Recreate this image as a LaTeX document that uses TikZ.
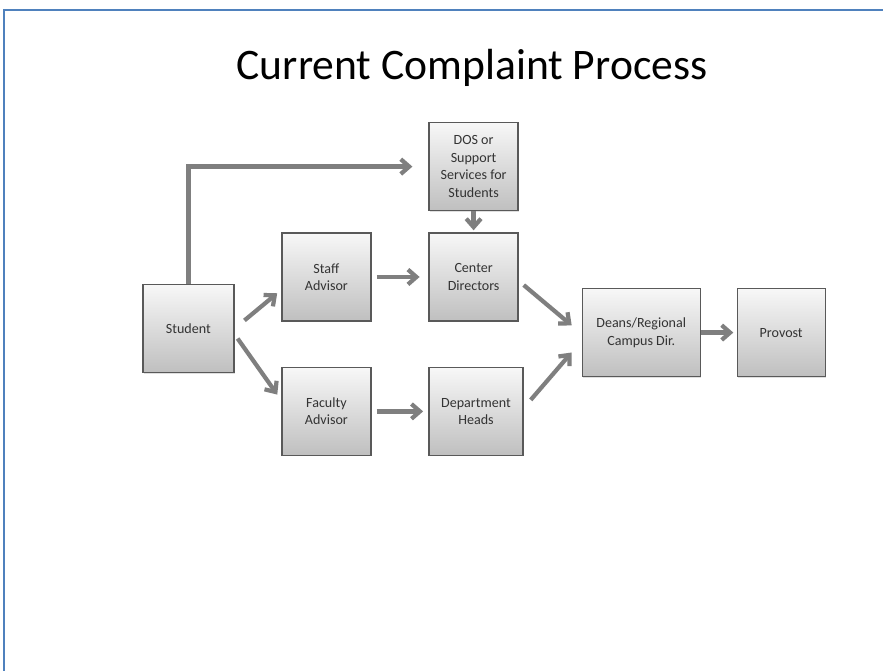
\documentclass[tikz,border=0pt]{standalone}
\usepackage{fontspec}
\setmainfont{Carlito}
\usetikzlibrary{arrows.meta,shadows}
\definecolor{framecol}{HTML}{4F81BD}
\definecolor{arrowgray}{HTML}{7F7F7F}
\definecolor{boxline}{HTML}{595959}
\tikzset{
  box/.style={rectangle, draw=boxline, line width=1pt,
    top color=gray!6, bottom color=gray!50,
    minimum width=2.225cm, minimum height=2.2cm, inner sep=1pt,
    align=center, text=black!80, font=\fontsize{10}{12.4}\selectfont,
    drop shadow={opacity=0.25, shadow xshift=0.7pt, shadow yshift=-0.7pt}},
  flow/.style={draw=arrowgray, line width=3pt,
    -{Straight Barb[length=6pt,width=10.5pt]}}
}

\begin{document}
\begin{tikzpicture}
            \useasboundingbox (0,0) rectangle (22.075,16.775);
            \fill[white] (0,0) rectangle (22.075,16.775);
            \draw[framecol, line width=1.2pt] (0.1,0) -- (0.1,16.525) -- (22.075,16.525);

            \node[font=\fontsize{31}{36}\selectfont] (title) at (11.8,15.08) {Current Complaint Process};

            \draw
            (4.71, 8.56) node[box, minimum width=2.275cm](student) {Student}
            (8.16, 9.85) node[box](staff) {Staff\\Advisor}
            (11.84, 9.85) node[box](center) {Center\\Directors}
            (11.84, 12.61) node[box](dos) {DOS or\\Support\\Services for\\Students}
            (8.16, 6.49) node[box](faculty) {Faculty\\Advisor}
            (11.9, 6.49) node[box, minimum width=2.35cm](dept) {Department\\Heads}
            (16.03, 8.46) node[box, minimum width=2.95cm](deans) {Deans/Regional\\Campus Dir.}
            (19.53, 8.46) node[box, minimum width=2.2cm](provost) {Provost};

            \draw[flow, shorten >=0.4cm] (student.north) |- (dos.west);
            \draw[flow, shorten >=0.05cm] (dos) -- (center);
            \draw[flow, shorten <=0.32cm, shorten >=0.13cm] (student.east) -- (staff.196);
            \draw[flow, shorten <=0.13cm, shorten >=0.17cm] (student.-7) -- (faculty.166);
            \draw[flow, shorten <=0.13cm, shorten >=0.22cm] (staff) -- (center);
            \draw[flow, shorten <=0.13cm, shorten >=0.13cm] (faculty) -- (dept);
            \draw[flow, shorten <=0.16cm, shorten >=0.32cm] (center.-5) -- (deans.181);
            \draw[flow, shorten <=0.27cm, shorten >=0.38cm] (dept.4) -- (deans.188);
            \draw[flow, shorten >=0.08cm] (deans) -- (provost);
\end{tikzpicture}
\end{document}
